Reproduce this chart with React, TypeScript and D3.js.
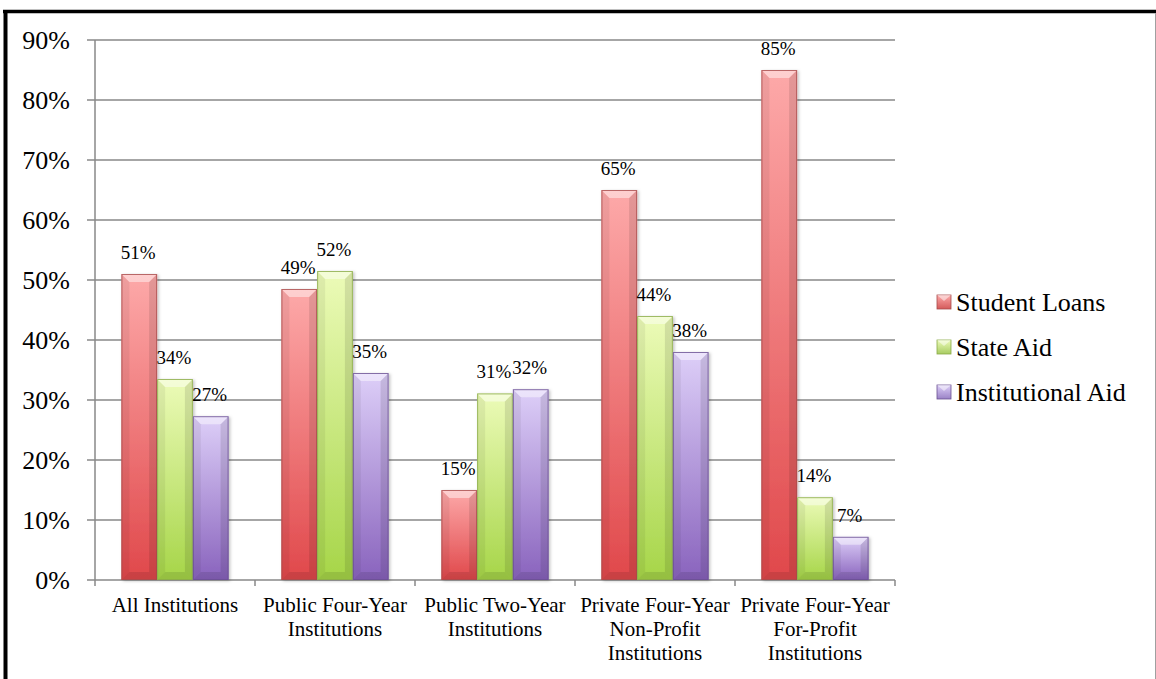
import React from "react";
import * as d3 from "d3";

const categories = [
  ["All Institutions"],
  ["Public Four-Year", "Institutions"],
  ["Public Two-Year", "Institutions"],
  ["Private Four-Year", "Non-Profit", "Institutions"],
  ["Private Four-Year", "For-Profit", "Institutions"],
];
const seriesNames = ["Student Loans", "State Aid", "Institutional Aid"];
const studentLoans = [51, 48.5, 15, 65, 85];
const stateAid = [33.5, 51.5, 31.1, 44, 13.8];
const institutionalAid = [27.3, 34.5, 31.8, 38, 7.2];
const yTicks = [0, 10, 20, 30, 40, 50, 60, 70, 80, 90];

const seriesValues = [studentLoans, stateAid, institutionalAid];
const colors = [
  { top: "#fda9a9", bottom: "#e0484b", stroke: "#a84c4c", legend: "#d45a5a" },
  { top: "#ecfbb8", bottom: "#a6d548", stroke: "#8aaa48", legend: "#a8cc62" },
  { top: "#ddcff8", bottom: "#8963bd", stroke: "#6a5092", legend: "#9a82c6" },
];

const W = 1156;
const H = 679;
const plot = { left: 95, right: 895, top: 40, bottom: 580 };
const FONT = "'Liberation Serif', 'Times New Roman', serif";

export default function App() {
  const x0 = d3
    .scaleBand<number>()
    .domain(categories.map((_, i) => i))
    .range([plot.left, plot.right])
    .paddingInner(0.33)
    .paddingOuter(0.165);
  const x1 = d3
    .scaleBand<number>()
    .domain(seriesNames.map((_, i) => i))
    .range([0, x0.bandwidth()])
    .padding(0);
  const y = d3.scaleLinear().domain([0, 90]).range([plot.bottom, plot.top]);
  const groupEdges = d3.range(categories.length + 1).map((i) => plot.left + (i * (plot.right - plot.left)) / categories.length);

  const bars: JSX.Element[] = [];
  seriesValues.forEach((vals, s) => {
    vals.forEach((v, c) => {
      const bx = (x0(c) as number) + (x1(s) as number);
      const bw = x1.bandwidth();
      const by = y(v);
      const bh = y(0) - by;
      const b = Math.min(8, bh / 2, bw / 2);
      bars.push(
        <g key={`b-${s}-${c}`}>
          <rect x={bx} y={by} width={bw} height={bh} fill={`url(#grad${s})`} filter="url(#shadow)" />
          <polygon
            points={`${bx},${by + bh} ${bx + b},${by + bh - b} ${bx + bw - b},${by + bh - b} ${bx + bw},${by + bh}`}
            fill="#000" fillOpacity={0.1}
          />
          <polygon
            points={`${bx},${by} ${bx + b},${by + b} ${bx + b},${by + bh - b} ${bx},${by + bh}`}
            fill="#000" fillOpacity={0.06}
          />
          <polygon
            points={`${bx + bw},${by} ${bx + bw - b},${by + b} ${bx + bw - b},${by + bh - b} ${bx + bw},${by + bh}`}
            fill="#000" fillOpacity={0.1}
          />
          <polygon
            points={`${bx},${by} ${bx + bw},${by} ${bx + bw - b},${by + b} ${bx + b},${by + b}`}
            fill="#fff" fillOpacity={0.45}
          />
          <rect x={bx + 0.5} y={by + 0.5} width={bw - 1} height={bh - 1} fill="none" stroke={colors[s].stroke} strokeWidth={1} strokeOpacity={0.8} />
        </g>
      );
    });
  });

  const labels: JSX.Element[] = [];
  seriesValues.forEach((vals, s) => {
    vals.forEach((v, c) => {
      const cx = (x0(c) as number) + (x1(s) as number) + x1.bandwidth() / 2 - 1;
      labels.push(
        <text key={`l-${s}-${c}`} x={cx} y={y(v) - 15} textAnchor="middle" fontSize={19} fontFamily={FONT} fill="#000">
          {`${Math.round(v)}%`}
        </text>
      );
    });
  });

  return (
    <svg width={W} height={H} style={{ position: "absolute", left: 0, top: 0, background: "#fff" }}>
      <defs>
        {colors.map((c, i) => (
          <linearGradient key={i} id={`grad${i}`} x1="0" y1="0" x2="0" y2="1">
            <stop offset="0%" stopColor={c.top} />
            <stop offset="100%" stopColor={c.bottom} />
          </linearGradient>
        ))}
        {colors.map((c, i) => (
          <linearGradient key={`lg${i}`} id={`lgrad${i}`} x1="0" y1="0" x2="0" y2="1">
            <stop offset="0%" stopColor={c.top} />
            <stop offset="100%" stopColor={c.legend} />
          </linearGradient>
        ))}
        <filter id="shadow" x="-20%" y="-5%" width="150%" height="115%">
          <feDropShadow dx="1.5" dy="1" stdDeviation="1.5" floodColor="#000" floodOpacity="0.25" />
        </filter>
      </defs>
      <rect x={0} y={0} width={W} height={H} fill="#fff" />

      {/* frame */}
      <line x1={3} x2={W} y1={11.5} y2={11.5} stroke="#000" strokeWidth={3.5} />
      <line x1={5.5} x2={5.5} y1={10} y2={H} stroke="#000" strokeWidth={4} />
      <line x1={1155.5} x2={1155.5} y1={13} y2={H} stroke="#a0a0a0" strokeWidth={1} />

      {/* gridlines */}
      {yTicks.map((t) => (
        <line key={`g${t}`} x1={87} x2={plot.right} y1={y(t)} y2={y(t)} stroke="#898989" strokeWidth={1.5} />
      ))}
      {/* y axis */}
      <line x1={plot.left} x2={plot.left} y1={plot.top} y2={plot.bottom} stroke="#898989" strokeWidth={1.5} />
      {/* x ticks */}
      {groupEdges.map((gx, i) => (
        <line key={`xt${i}`} x1={gx} x2={gx} y1={plot.bottom} y2={plot.bottom + 6} stroke="#898989" strokeWidth={1.5} />
      ))}
      {yTicks.map((t) => (
        <text key={`yt${t}`} x={70} y={y(t) + 9} textAnchor="end" fontSize={26} fontFamily={FONT} fill="#000">
          {`${t}%`}
        </text>
      ))}

      {bars}
      {labels}

      {categories.map((lines, c) => (
        <text key={`c${c}`} textAnchor="middle" fontSize={21} fontFamily={FONT} fill="#000">
          {lines.map((ln, j) => (
            <tspan key={j} x={(x0(c) as number) + x0.bandwidth() / 2} y={612 + j * 24}>
              {ln}
            </tspan>
          ))}
        </text>
      ))}

      {/* legend */}
      {seriesNames.map((name, i) => {
        const base = 311 + i * 45;
        return (
          <g key={`lg${i}`}>
            <rect x={937} y={base - 16} width={14} height={14} fill={`url(#lgrad${i})`} stroke={colors[i].stroke} strokeWidth={0.8} />
            <polygon points={`${937},${base - 16} ${951},${base - 16} ${944},${base - 10}`} fill="#fff" fillOpacity={0.5} />
            <text x={956} y={base} fontSize={26} fontFamily={FONT} fill="#000">
              {name}
            </text>
          </g>
        );
      })}
    </svg>
  );
}
